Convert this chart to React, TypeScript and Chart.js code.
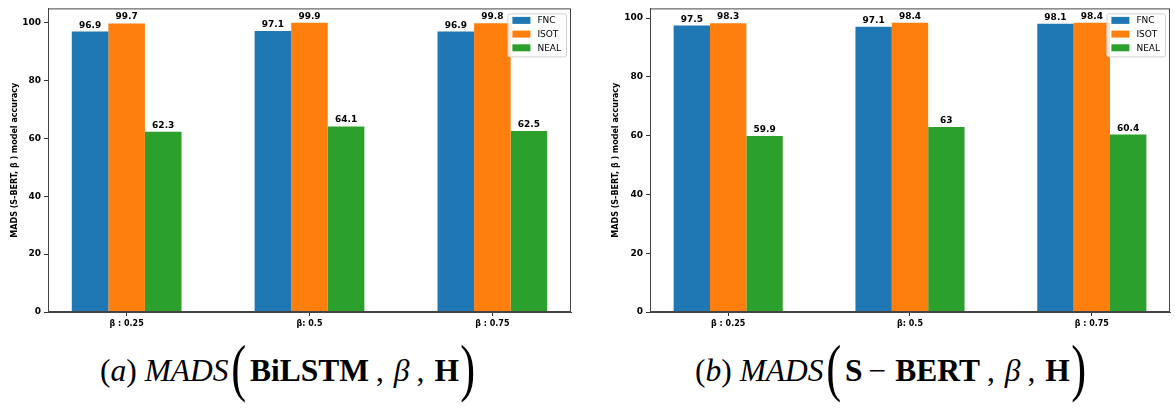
import React, { useEffect, useRef } from "react";
import { Chart, registerables } from "chart.js";
Chart.register(...registerables);

const groupLabels = ["β : 0.25", "β: 0.5", "β : 0.75"];
const seriesNames = ["FNC", "ISOT", "NEAL"];
const seriesColors = ["#1f77b4", "#ff7f0e", "#2ca02c"];
const bilstmFNC = [96.9, 97.1, 96.9];
const bilstmISOT = [99.7, 99.9, 99.8];
const bilstmNEAL = [62.3, 64.1, 62.5];
const sbertFNC = [97.5, 97.1, 98.1];
const sbertISOT = [98.3, 98.4, 98.4];
const sbertNEAL = [59.9, 63, 60.4];
const yTicks = [0, 20, 40, 60, 80, 100];
const yTitle = "MADS (S-BERT, β ) model accuracy";

const FONT = "'DejaVu Sans', sans-serif";
const SERIF = "'Liberation Serif', 'Times New Roman', serif";

const decorPlugin = {
  id: "decor",
  afterDatasetsDraw(chart: any) {
    const ctx = chart.ctx;
    const a = chart.chartArea;
    ctx.save();
    // value labels
    ctx.font = `bold 9px ${FONT}`;
    ctx.fillStyle = "#000";
    ctx.textAlign = "center";
    ctx.textBaseline = "alphabetic";
    chart.data.datasets.forEach((ds: any, di: number) => {
      const meta = chart.getDatasetMeta(di);
      meta.data.forEach((el: any, i: number) => {
        ctx.fillText(String(ds.data[i].y), el.x, el.y - 4);
      });
    });
    // frame
    ctx.strokeStyle = "#444";
    ctx.lineWidth = 1;
    ctx.strokeRect(a.left + 0.5, a.top + 0.5, a.right - a.left - 1, a.bottom - a.top - 1);
    // legend
    ctx.font = `9px ${FONT}`;
    const names = chart.data.datasets.map((d: any) => d.label);
    const tw = Math.max(...names.map((n: string) => ctx.measureText(n).width));
    const boxW = 5 + 18 + 7 + tw + 5;
    const boxH = 43;
    const bx = a.right - 5 - boxW;
    const by = a.top + 5;
    ctx.fillStyle = "rgba(255,255,255,0.8)";
    ctx.strokeStyle = "#d0d0d0";
    ctx.beginPath();
    ctx.roundRect(bx + 0.5, by + 0.5, boxW, boxH, 2);
    ctx.fill();
    ctx.stroke();
    ctx.textAlign = "left";
    ctx.textBaseline = "middle";
    names.forEach((n: string, i: number) => {
      const cy = by + 7 + i * 13.7;
      ctx.fillStyle = chart.data.datasets[i].backgroundColor;
      ctx.fillRect(bx + 5, cy - 3.5, 18, 7);
      ctx.fillStyle = "#000";
      ctx.fillText(n, bx + 5 + 18 + 7, cy + 0.5);
    });
    ctx.restore();
  },
};

function buildConfig(fnc: number[], isot: number[], neal: number[], yMax: number, yAxisWidth: number, titlePad: number, padRight: number) {
  const series = [fnc, isot, neal];
  return {
    type: "bar",
    data: {
      datasets: series.map((vals, si) => ({
        label: seriesNames[si],
        data: vals.map((v, i) => ({ x: i, y: v })),
        backgroundColor: seriesColors[si],
        borderWidth: 0,
        categoryPercentage: 0.6,
        barPercentage: 1.0,
      })),
    },
    options: {
      responsive: false,
      animation: false,
      layout: { padding: { left: 0, right: padRight, top: 6, bottom: 0 } },
      plugins: { legend: { display: false }, tooltip: { enabled: false } },
      scales: {
        x: {
          type: "linear",
          min: -0.43,
          max: 2.43,
          offset: false,
          afterBuildTicks: (s: any) => {
            s.ticks = groupLabels.map((_, i) => ({ value: i }));
          },
          afterFit: (s: any) => {
            s.height = 18;
          },
          ticks: {
            callback: (_v: any, i: number) => groupLabels[i],
            font: { family: FONT, size: 8, weight: "bold" },
            color: "#000",
            padding: 3,
            maxRotation: 0,
            autoSkip: false,
          },
          grid: { drawOnChartArea: false, drawTicks: true, tickLength: 4, color: "#333", offset: false },
          border: { display: true, color: "#444" },
        },
        y: {
          type: "linear",
          min: 0,
          max: yMax,
          afterBuildTicks: (s: any) => {
            s.ticks = yTicks.map((v) => ({ value: v }));
          },
          afterFit: (s: any) => {
            s.width = yAxisWidth;
          },
          ticks: {
            font: { family: FONT, size: 9, weight: "bold" },
            color: "#000",
            padding: 3,
          },
          grid: { drawOnChartArea: false, drawTicks: true, tickLength: 4, color: "#333" },
          border: { display: true, color: "#444" },
          title: {
            display: true,
            text: yTitle,
            font: { family: FONT, size: 8, weight: "bold" },
            color: "#000",
            padding: { top: titlePad, bottom: 0 },
          },
        },
      },
    },
    plugins: [decorPlugin],
  };
}

function BarChart({ config, left }: { config: any; left: number }) {
  const ref = useRef<HTMLCanvasElement>(null);
  useEffect(() => {
    const chart = new Chart(ref.current as HTMLCanvasElement, config);
    return () => chart.destroy();
  }, [config]);
  return (
    <canvas
      ref={ref}
      width={575}
      height={330}
      style={{ position: "absolute", left, top: 0, width: 575, height: 330 }}
    />
  );
}

const bigParenL: React.CSSProperties = {
  display: "inline-block",
  fontSize: 64,
  lineHeight: 0,
  transform: "scaleX(0.7)",
  position: "relative",
  top: 8,
  margin: "0 1px 0 -1px",
};
const bigParenR: React.CSSProperties = { ...bigParenL, margin: "0 0 0 -2px" };
const comma: React.CSSProperties = { margin: "0 10px 0 7px" };
const minus: React.CSSProperties = { margin: "0 9px 0 6px" };

function Caption({ tag, arg, left }: { tag: string; arg: React.ReactNode; left: number }) {
  return (
    <div
      style={{
        position: "absolute",
        left,
        top: 341,
        fontFamily: SERIF,
        fontSize: 31.5,
        lineHeight: "60px",
        whiteSpace: "nowrap",
        color: "#000",
      }}
    >
      <span>(</span>
      <i>{tag}</i>
      <span>)</span> <i>MADS</i>
      <span style={bigParenL}>(</span>
      {arg}
      <span style={comma}>,</span>
      <i>β</i>
      <span style={comma}>,</span>
      <b>H</b>
      <span style={bigParenR}>)</span>
    </div>
  );
}

const configA = buildConfig(bilstmFNC, bilstmISOT, bilstmNEAL, 99.9 * 1.05, 48, 10, 4);
const configB = buildConfig(sbertFNC, sbertISOT, sbertNEAL, 98.4 * 1.05, 50, 11, 5);

export default function App() {
  return (
    <div
      style={{
        position: "absolute",
        left: 0,
        top: 0,
        width: 1175,
        height: 408,
        background: "#fff",
        overflow: "hidden",
      }}
    >
      <BarChart config={configA} left={0} />
      <BarChart config={configB} left={600} />
      <Caption tag="a" arg={<b>BiLSTM</b>} left={100} />
      <Caption
        tag="b"
        arg={
          <>
            <b>S</b>
            <span style={minus}>−</span>
            <b>BERT</b>
          </>
        }
        left={695}
      />
    </div>
  );
}
